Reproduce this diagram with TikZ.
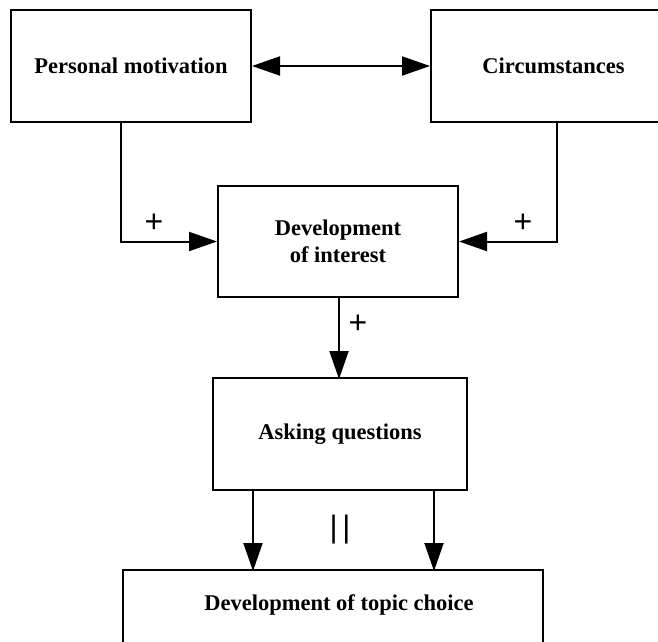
\documentclass[tikz,border=0pt]{standalone}
\usepackage{fontspec}
\setmainfont{Liberation Serif}
\newfontfamily\barfont{Liberation Sans}
\usetikzlibrary{arrows.meta}
\begin{document}
\begin{tikzpicture}[x=1pt,y=-1pt,
  box/.style={draw,line width=2pt,rectangle,inner sep=0pt,align=center,
    font=\fontsize{22.5}{27}\selectfont\bfseries},
  conn/.style={line width=2pt,-{Triangle[length=28pt,width=19pt]}},
  sign/.style={inner sep=0pt,font=\barfont\fontsize{32}{32}\selectfont}]
\clip (0,0) rectangle (658,641);
\fill[white] (0,0) rectangle (658,641);
\node[box,minimum width=240pt,minimum height=112pt] (PM) at (131,66) {Personal motivation};
\node[box,minimum width=245pt,minimum height=112pt] (CI) at (553.5,66) {Circumstances};
\node[box,minimum width=240pt,minimum height=111pt] (DI) at (338,241.5) {Development\\of interest};
\node[box,minimum width=254pt,minimum height=112pt] (AQ) at (340,434) {Asking questions};
\node[box,minimum width=420pt,minimum height=112pt] (TC) at (333,626) {};
\node[inner sep=0pt,font=\fontsize{22.5}{27}\selectfont\bfseries] (TCL) at (339,605) {Development of topic choice};
% connectors
\draw[line width=2pt,{Triangle[length=28pt,width=19pt]}-{Triangle[length=28pt,width=19pt]}] (PM.east) -- (CI.west);
\draw[conn] (PM.south) ++(-10,0) |- (DI.west);
\draw[conn] (CI.south) ++(3.5,0) |- (DI.east);
\draw[conn] (DI.south) ++(1,0) -- ++(0,81);
\draw[conn] (AQ.south) ++(-87,0) -- ++(0,80);
\draw[conn] (AQ.south) ++(94,0) -- ++(0,80);
% labels
\node[sign] (p1) at (154,223) {+};
\node[sign] (p2) at (523,223) {+};
\node[sign] (p3) at (358,324) {+};
\node[inner sep=0pt,font=\barfont\fontsize{31}{31}\selectfont] (par) at (340,530) {|\kern4.5pt|};
\end{tikzpicture}
\end{document}
